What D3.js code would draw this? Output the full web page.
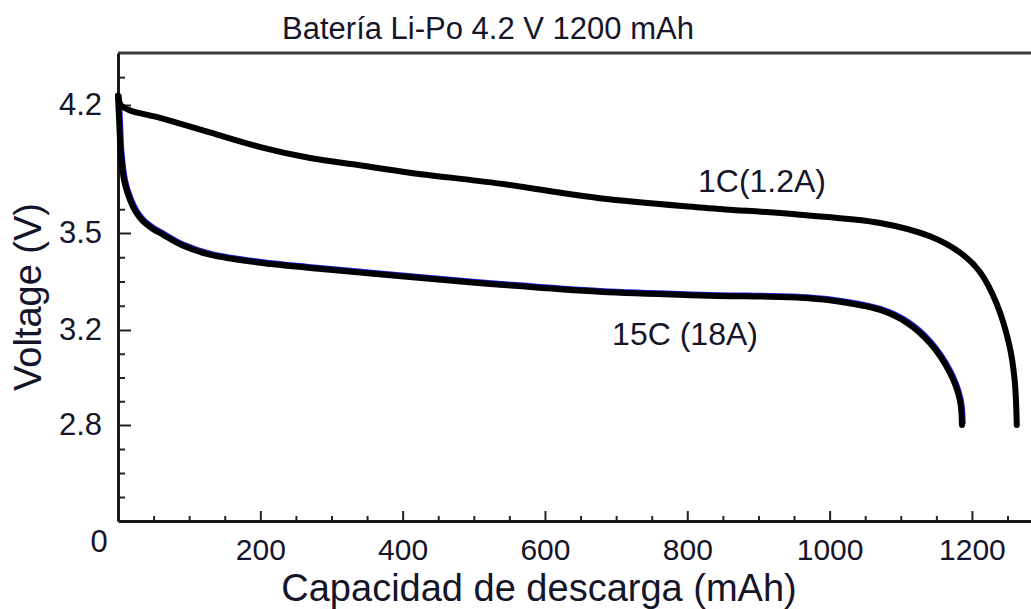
<!DOCTYPE html>
<html>
<head>
<meta charset="utf-8">
<script src="https://cdn.jsdelivr.net/npm/d3@7"></script>
<style>
  body { margin: 0; background: #fff; }
  svg text { font-family: "Liberation Sans", Arial, sans-serif; fill: #15152a; }
</style>
</head>
<body>
<script>
// discharge curves (capacity in mAh, voltage in V)
var mAh_1C   = [0, 4, 17, 59, 129, 200, 270, 340, 410, 537, 677, 818, 958, 1071, 1141, 1183, 1211, 1235, 1253, 1260, 1263];
var volt_1C  = [4.25, 4.20, 4.17, 4.13, 4.05, 3.97, 3.91, 3.87, 3.83, 3.77, 3.69, 3.64, 3.60, 3.555, 3.49, 3.44, 3.38, 3.28, 3.13, 2.99, 2.80];
var mAh_15C  = [0, 2, 4, 9, 17, 25, 35, 48, 63, 90, 129, 200, 270, 340, 410, 537, 677, 818, 958, 1000, 1071, 1109, 1141, 1169, 1183, 1186];
var volt_15C = [4.25, 4.08, 3.93, 3.78, 3.68, 3.615, 3.565, 3.525, 3.495, 3.462, 3.433, 3.408, 3.392, 3.378, 3.364, 3.34, 3.318, 3.307, 3.30, 3.292, 3.262, 3.222, 3.145, 3.02, 2.905, 2.80];

// axis ticks (the voltage axis is not evenly spaced in the source)
var x_ticks       = [200, 400, 600, 800, 1000, 1200];
var x_minor_ticks = [50, 100, 150, 250, 300, 350, 450, 500, 550, 650, 700, 750, 850, 900, 950, 1050, 1100, 1150, 1250];
var y_ticks       = [2.8, 3.2, 3.5, 4.2];
var y_minor_ticks = [0.7, 1.4, 2.1, 2.9, 3.0, 3.1, 3.275, 3.35, 3.425, 3.63, 4.35];
var y_breaks      = [0, 2.8, 3.2, 3.5, 4.2, 4.48];

var title   = "Batería Li-Po 4.2 V 1200 mAh";
var xlabel  = "Capacidad de descarga (mAh)";
var ylabel  = "Voltage (V)";
var label_1C  = "1C(1.2A)";
var label_15C = "15C (18A)";

var width = 1031, height = 609;
var svg = d3.select("body").append("svg")
    .attr("width", width)
    .attr("height", height);

// scales
var x = d3.scaleLinear().domain([0, 1283]).range([118, 1031]);
var y = d3.scaleLinear().domain(y_breaks).range([521, 425, 330, 233, 105, 53]);

// top frame line
svg.append("line")
    .attr("x1", x(0)).attr("x2", x(1283))
    .attr("y1", y(4.48)).attr("y2", y(4.48))
    .attr("stroke", "#3a3a3a").attr("stroke-width", 3);

// minor ticks (inside)
svg.append("g")
    .attr("transform", "translate(0," + y(0) + ")")
    .call(d3.axisBottom(x).tickValues(x_minor_ticks).tickSize(-5).tickFormat(""))
    .call(g => g.select(".domain").remove())
    .selectAll("line").attr("stroke", "#222").attr("stroke-width", 2);
svg.append("g")
    .attr("transform", "translate(" + x(0) + ",0)")
    .call(d3.axisLeft(y).tickValues(y_minor_ticks).tickSize(-7).tickFormat(""))
    .call(g => g.select(".domain").remove())
    .selectAll("line").attr("stroke", "#222").attr("stroke-width", 2);

// major ticks with labels
var xa = svg.append("g")
    .attr("transform", "translate(0," + y(0) + ")")
    .call(d3.axisBottom(x).tickValues(x_ticks).tickSize(-10).tickSizeOuter(0).tickPadding(18).tickFormat(d3.format("d")));
xa.select(".domain").attr("stroke", "#1a1a1a").attr("stroke-width", 3);
xa.selectAll("line").attr("stroke", "#222").attr("stroke-width", 2);
xa.selectAll("text").style("font-size", "30px").attr("fill", "#15152a");

var ya = svg.append("g")
    .attr("transform", "translate(" + x(0) + ",0)")
    .call(d3.axisLeft(y).tickValues(y_ticks).tickSize(-13).tickSizeOuter(0).tickPadding(16).tickFormat(d3.format(".1f")));
ya.select(".domain").attr("stroke", "#1a1a1a").attr("stroke-width", 3);
ya.selectAll("line").attr("stroke", "#222").attr("stroke-width", 2);
ya.selectAll("text").style("font-size", "31px").attr("fill", "#15152a");

// origin label
svg.append("text")
    .attr("x", x(0) - 19).attr("y", y(0) + 31)
    .style("text-anchor", "middle")
    .style("font-size", "31px")
    .text("0");

// curves
var line = d3.line()
    .x(d => x(d[0]))
    .y(d => y(d[1]))
    .curve(d3.curveCatmullRom.alpha(0.5));

var data_1C  = d3.zip(mAh_1C, volt_1C);
var data_15C = d3.zip(mAh_15C, volt_15C);

// faint blue fringe under the 15C curve, as in the scan
svg.append("path")
    .datum(data_15C)
    .attr("d", line)
    .attr("transform", "translate(1,-1)")
    .attr("fill", "none")
    .attr("stroke", "#1c1cdc")
    .attr("stroke-width", 5.5);

[data_15C, data_1C].forEach(function(d) {
    svg.append("path")
        .datum(d)
        .attr("d", line)
        .attr("fill", "none")
        .attr("stroke", "#000")
        .attr("stroke-width", 6)
        .attr("stroke-linecap", "round")
        .attr("stroke-linejoin", "round");
});

// curve labels
svg.append("text")
    .attr("x", 762).attr("y", 192)
    .style("text-anchor", "middle")
    .style("font-size", "32px")
    .text(label_1C);
svg.append("text")
    .attr("x", 685).attr("y", 345)
    .style("text-anchor", "middle")
    .style("font-size", "32px")
    .text(label_15C);

// title and axis labels
svg.append("text")
    .attr("x", 488).attr("y", 39)
    .style("text-anchor", "middle")
    .style("font-size", "31px")
    .text(title);

svg.append("text")
    .attr("x", 539).attr("y", 601)
    .style("text-anchor", "middle")
    .style("font-size", "38px")
    .text(xlabel);

svg.append("text")
    .attr("transform", "translate(41,297) rotate(-90)")
    .style("text-anchor", "middle")
    .style("font-size", "38px")
    .text(ylabel);
</script>
</body>
</html>
